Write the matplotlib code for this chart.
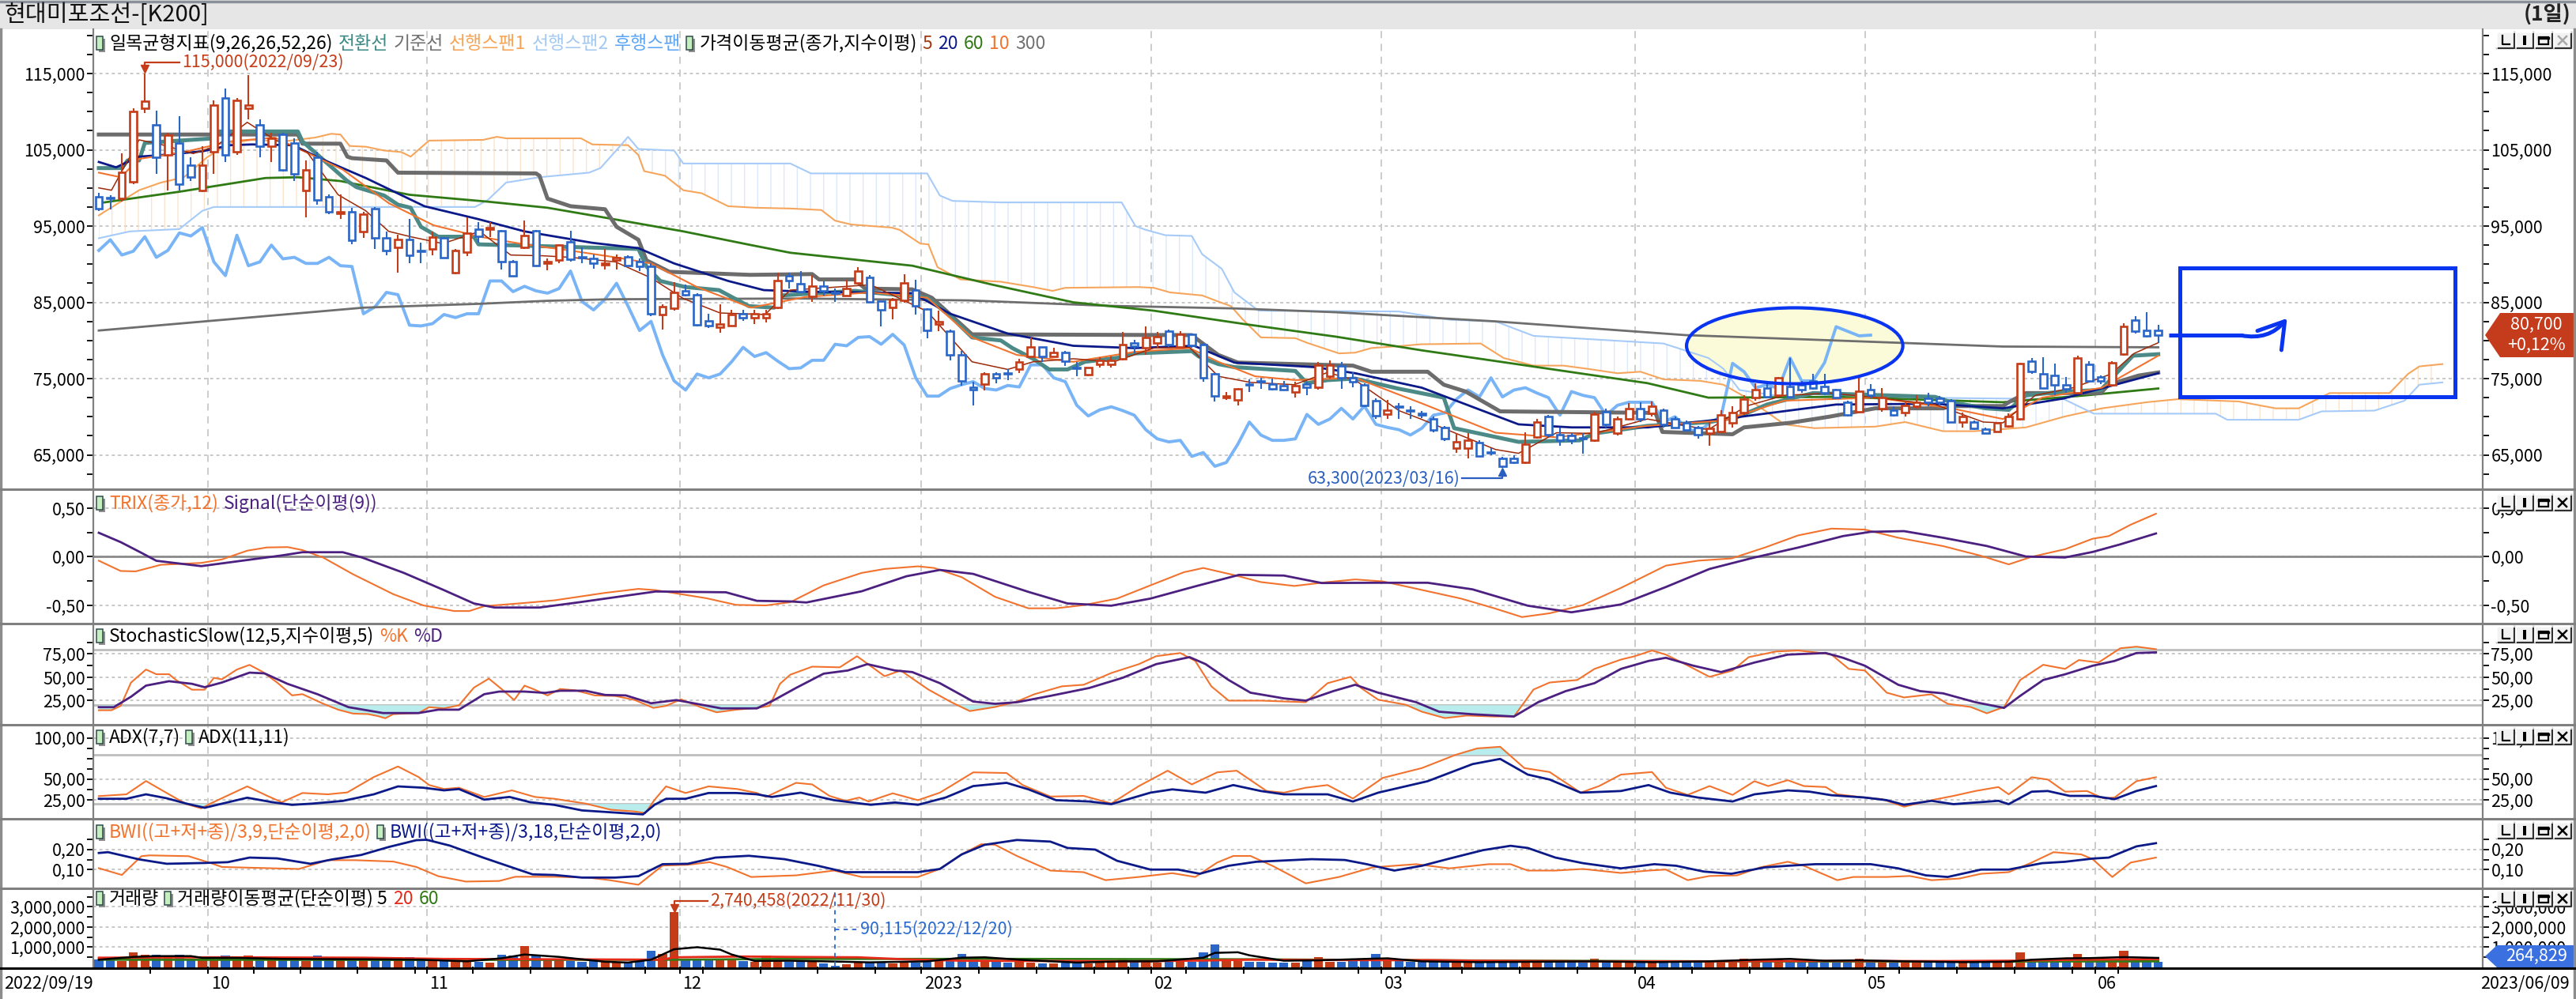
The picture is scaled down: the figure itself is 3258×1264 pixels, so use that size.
import numpy as np
import pandas as pd
import matplotlib
matplotlib.use('Agg')
import matplotlib.pyplot as plt
import matplotlib.transforms as mtransforms
from matplotlib import font_manager
from matplotlib.patches import Rectangle, Ellipse, Polygon

# ---------------- data ----------------
HOLIDAYS = ['2022-10-03', '2022-10-10', '2022-12-30', '2023-01-23', '2023-01-24',
            '2023-03-01', '2023-05-01', '2023-05-05', '2023-05-29', '2023-06-06']

OPEN = [98800, 98700, 98600, 100800, 110400, 108300, 104300, 105900, 103000, 99700,
        104700, 111800, 104700, 110400, 108300, 105500, 107000, 105900, 99700, 104000,
        98800, 96700, 96900, 94300, 97300, 93400, 92200, 93200, 91800, 92000,
        93400, 88900, 91600, 94600, 94600, 94400, 90300, 92200, 94400, 90100,
        90500, 92900, 91000, 90700, 89900, 90500, 91000, 90300, 89700, 83400,
        84200, 86500, 86000, 82600, 81700, 81900, 83500, 83000, 83000, 84300,
        88500, 87400, 85800, 87100, 86300, 85900, 87500, 88300, 85200, 84300,
        85300, 86600, 84100, 82200, 81200, 78100, 73900, 74300, 75600, 75700,
        76200, 77900, 79100, 77900, 78400, 76400, 75500, 76900, 76900, 77600,
        79700, 79000, 79700, 81200, 79100, 80800, 79500, 75600, 72500, 72200,
        74300, 74700, 74300, 74100, 73200, 74300, 73900, 75300, 76700, 75100,
        74200, 72100, 70300, 71400, 70900, 70400, 69700, 68600, 65900, 65900,
        66600, 65400, 64500, 64500, 64000, 67300, 70000, 67600, 67500, 67200,
        66900, 70700, 67900, 69700, 71100, 70400, 70900, 69700, 69200, 68600,
        67800, 68100, 69200, 70500, 72500, 73800, 72800, 74000, 74200, 74700,
        74000, 73500, 71900, 70700, 73500, 71100, 70900, 70500, 71400, 72400,
        72400, 72100, 69300, 69300, 68400, 68100, 68800, 69700, 77300, 75600,
        75400, 74200, 73100, 76900, 75200, 74200, 78200, 82700, 81300, 81300]
HIGH = [99400, 99000, 104500, 110400, 115000, 110100, 107200, 109400, 104000, 105500,
        111500, 113000, 111800, 114800, 109000, 107200, 107200, 106500, 103600, 104700,
        99100, 99100, 97400, 96900, 97500, 94300, 93900, 95900, 92800, 94300,
        93600, 92000, 96100, 95500, 95500, 94500, 90500, 95700, 94500, 90800,
        92600, 94400, 92200, 91300, 92000, 91300, 91200, 90800, 90100, 84700,
        87600, 87300, 86200, 83500, 84700, 84000, 84000, 84000, 84000, 88900,
        88900, 89100, 88600, 87700, 86800, 88000, 89600, 88600, 85200, 85600,
        88700, 88000, 84200, 83900, 81400, 78600, 74600, 75800, 75800, 76200,
        77600, 80400, 79100, 79000, 78600, 77200, 76500, 77800, 77900, 81100,
        80100, 81800, 81100, 81400, 81200, 80900, 79700, 75700, 73200, 73800,
        74900, 75100, 75000, 74700, 74600, 74600, 77200, 77400, 77200, 75800,
        74400, 72400, 72200, 71800, 71400, 70800, 70000, 68800, 67800, 67800,
        66900, 65900, 64700, 65000, 68000, 69700, 70200, 68600, 67800, 67800,
        70700, 71100, 70000, 71800, 71900, 72000, 71100, 70000, 69500, 68800,
        69300, 70900, 71400, 72800, 74400, 74400, 75200, 77700, 74700, 75600,
        75600, 73700, 72100, 75200, 74300, 73800, 71400, 71900, 72800, 73100,
        72700, 72300, 70500, 69500, 68600, 69300, 70400, 77100, 77700, 77800,
        77000, 75200, 78000, 77300, 75400, 77300, 82300, 83200, 83700, 82000]
LOW = [97000, 97200, 98200, 100500, 109800, 101800, 99700, 99700, 100900, 99500,
       101800, 103400, 104300, 109000, 104000, 103400, 102200, 100900, 96100, 97800,
       96600, 95900, 92600, 93400, 92000, 91200, 88900, 90100, 90100, 91200,
       90700, 88700, 91100, 92800, 93600, 89300, 88400, 92000, 89700, 89200,
       90100, 90300, 90100, 89400, 89300, 89300, 89700, 89100, 83200, 81400,
       83900, 85800, 81800, 81600, 81000, 81800, 82600, 82200, 82400, 84100,
       86800, 86200, 85100, 85900, 85100, 85800, 87300, 85000, 81800, 82800,
       85000, 83400, 80300, 81200, 77400, 74100, 71500, 73400, 74400, 74800,
       75700, 77800, 77200, 77800, 76700, 75300, 75300, 76500, 76400, 77400,
       78300, 78100, 79000, 79100, 79000, 79000, 74600, 72000, 72200, 71500,
       73200, 73700, 73400, 73400, 72500, 72800, 73600, 75000, 73700, 73900,
       71300, 69700, 69700, 69700, 69700, 69800, 68000, 66800, 65300, 64500,
       64700, 65000, 63300, 63800, 63800, 67100, 67300, 66200, 66400, 65200,
       66700, 68600, 67500, 69500, 69300, 70000, 68600, 68500, 68100, 67100,
       66200, 67900, 68600, 70200, 72100, 72400, 72600, 72400, 73100, 73600,
       72800, 72300, 70000, 70500, 72400, 70700, 70000, 70000, 71100, 71400,
       71600, 69200, 68600, 68300, 67700, 68000, 68600, 69500, 75600, 73700,
       72800, 73100, 73000, 74500, 74300, 74000, 78000, 80900, 80400, 79700]
CLOSE = [97300, 98600, 102000, 110000, 111400, 104000, 106900, 100500, 101400, 103000,
         110900, 104300, 111500, 110900, 105500, 106500, 102400, 101800, 102400, 98400,
         96900, 96900, 93100, 96600, 93400, 91800, 93200, 91200, 91700, 93600,
         90900, 91800, 94100, 93700, 94800, 90300, 88500, 93800, 89800, 90300,
         92500, 90700, 90900, 90100, 90100, 90900, 89800, 89700, 83500, 84400,
         86300, 86000, 82000, 81900, 82200, 83400, 83000, 83500, 83500, 87800,
         87800, 86400, 87100, 86500, 86200, 86800, 89100, 85100, 84000, 85400,
         87500, 84500, 81300, 82500, 78100, 74700, 73500, 75600, 75100, 75600,
         77200, 79100, 77900, 78400, 77300, 76300, 76400, 77400, 77400, 79500,
         79300, 80400, 80500, 79500, 80800, 79400, 75100, 72700, 72700, 73700,
         74200, 74600, 73700, 73500, 74100, 73900, 76800, 76800, 75100, 74600,
         71500, 70100, 70900, 71300, 70800, 70200, 68300, 67100, 66700, 66900,
         64800, 65300, 63500, 64000, 66400, 69300, 67600, 66900, 66900, 67100,
         70300, 69000, 69700, 71100, 69700, 71400, 69000, 68600, 68300, 67600,
         68500, 70200, 70500, 72300, 73500, 72600, 75100, 72600, 73500, 73800,
         73100, 72500, 70200, 73300, 72800, 72500, 70200, 71500, 71900, 71900,
         71900, 69300, 70000, 68500, 67900, 69200, 70000, 77000, 75900, 73800,
         74200, 73700, 77700, 74700, 74700, 77100, 81800, 81200, 80600, 80700]
VOLUME = [410000, 346000, 320000, 730000, 640000, 640000, 513000, 640000, 449000, 410000,
          410000, 577000, 449000, 577000, 449000, 385000, 385000, 385000, 320000, 577000,
          449000, 385000, 385000, 385000, 385000, 385000, 513000, 513000, 346000, 320000,
          385000, 320000, 282000, 256000, 218000, 640000, 577000, 1051000, 603000, 449000,
          385000, 295000, 256000, 320000, 256000, 218000, 218000, 320000, 808000, 680000,
          2740458, 449000, 420000, 449000, 346000, 385000, 295000, 256000, 577000, 346000,
          256000, 256000, 256000, 192000, 90115, 160000, 256000, 256000, 250000, 200000,
          280000, 230000, 300000, 300000, 440000, 680000, 520000, 280000, 260000, 240000,
          430000, 250000, 200000, 180000, 230000, 200000, 210000, 250000, 260000, 430000,
          280000, 300000, 250000, 280000, 260000, 260000, 750000, 1140000, 430000, 330000,
          280000, 260000, 240000, 250000, 230000, 300000, 520000, 280000, 270000, 300000,
          430000, 680000, 350000, 300000, 280000, 260000, 260000, 240000, 250000, 240000,
          230000, 260000, 300000, 260000, 280000, 365000, 300000, 280000, 260000, 240000,
          445000, 300000, 260000, 240000, 250000, 260000, 250000, 240000, 250000, 260000,
          300000, 280000, 300000, 445000, 365000, 300000, 445000, 300000, 280000, 260000,
          280000, 300000, 280000, 445000, 280000, 270000, 250000, 260000, 250000, 240000,
          260000, 250000, 270000, 260000, 250000, 260000, 280000, 750000, 300000, 320000,
          300000, 380000, 680000, 520000, 280000, 300000, 840000, 420000, 520000, 264829]

# moving averages / ichimoku lines, (bar index, value)
MA5 = [(0, 100000), (1.1, 99700), (3.5, 106300), (5.4, 105700), (8.2, 104500), (10.2, 105500),
       (12.9, 108600), (15.3, 106300), (18.1, 104700), (20.8, 99100), (23.2, 97000), (25.2, 94300),
       (27.1, 93600), (29.9, 92700), (33.1, 94300), (35.8, 91200), (38.6, 91100), (41, 90900),
       (44.9, 90300), (48, 88200), (50.8, 85500), (54, 83600), (57.9, 83400), (60.1, 86600),
       (67.1, 87300), (72, 83800), (75.9, 77200), (79, 76200), (81.2, 77200), (84.7, 77600),
       (88.2, 77200), (91.7, 79000), (94.8, 79100), (97.3, 75300), (100.1, 74500), (103.9, 74200),
       (106.8, 75800), (109.2, 74800), (113, 70800), (114.9, 69700), (121.4, 65700), (123.4, 65200),
       (126.7, 67900), (130, 67800), (134.6, 69700), (139.9, 68300), (143.2, 71400), (146.5, 72800),
       (150.5, 73100), (154.5, 72500), (159.6, 71600), (163.8, 69300), (165.5, 69200), (168.3, 72800),
       (171.6, 73800), (174.9, 75600), (176.9, 78300), (179, 79700)]
MA10 = [(0, 102000), (1.9, 101400), (3.5, 103800), (7.4, 104700), (11.4, 106100), (15.3, 106600),
        (17.7, 104900), (21.2, 102400), (25.2, 98000), (29.1, 95100), (33.1, 93600), (37, 92600),
        (40.9, 91800), (44.9, 90900), (48, 90100), (52, 87000), (56.7, 84300), (61.4, 85700),
        (67.1, 86300), (72, 85600), (75.9, 80400), (79.8, 78100), (84.7, 77200), (90, 78500),
        (94.8, 79000), (97.3, 77200), (100.5, 75300), (104, 74800), (109.2, 75100), (114.9, 71800),
        (121.4, 67900), (126.7, 67300), (134.6, 68800), (141.2, 69500), (146.5, 72100), (154.5, 72500),
        (161, 71100), (165.5, 69700), (168.9, 72500), (174.1, 73800), (179, 78000)]
MA20 = [(0, 103400), (1.5, 102700), (3.5, 104100), (5.4, 104300), (9, 104800), (11.4, 105600),
        (13.3, 105700), (16.9, 105600), (19.2, 103900), (23.2, 101300), (28.3, 97600), (33, 95900),
        (37, 94300), (42.9, 92800), (46.9, 92100), (50, 90100), (54.7, 87800), (57.8, 86600),
        (61.4, 86400), (70.7, 86200), (74, 83500), (79, 80900), (84.7, 79300), (90, 79000),
        (95.2, 79300), (98.7, 77100), (105.7, 76500), (109.2, 75700), (115, 73800), (123.4, 69000),
        (128, 68600), (134.6, 68600), (141.2, 69700), (151, 71600), (159.6, 71700), (165.5, 71100),
        (170.8, 72400), (179, 75700)]
MA60 = [(0, 98000), (7, 99500), (14.5, 101300), (17.3, 101400), (21, 100900), (27, 99100),
        (33.8, 98200), (39, 97400), (44, 96100), (50.8, 94300), (56.7, 92500), (60.1, 91500),
        (70.7, 89800), (77.7, 87300), (84.7, 85000), (91.7, 83900), (99.8, 82100), (107.5, 80500),
        (115, 78700), (121.4, 77300), (134.6, 74400), (139.9, 72500), (151, 72600), (165.5, 71900),
        (172.7, 72800), (179, 73700)]
MA300 = [(0, 81300), (23, 84300), (33, 84800), (39, 85200), (44.5, 85400), (61, 85500),
         (75.6, 85250), (87.5, 84550), (98.7, 84200), (107.5, 83700), (115, 83050), (121.4, 82500),
         (137.9, 80700), (149, 80100), (165.5, 79200), (179, 79100)]
TENKAN = [(0, 102600), (2, 102600), (2.5, 103600), (3.5, 103600), (4, 105900), (10, 106500),
          (10.5, 107400), (17.3, 107400), (17.7, 106100), (21.6, 100900), (22.4, 100100), (24.8, 99000),
          (26, 97800), (27.1, 97400), (28, 94900), (29.5, 93600), (32.6, 93600), (33, 92600),
          (46.9, 92000), (47.6, 89700), (48.8, 87800), (51, 87000), (53.9, 86600), (56.5, 84500),
          (58.7, 84300), (59.3, 85900), (65.7, 86500), (67.1, 86300), (72, 85600), (74, 83200),
          (75.9, 80400), (78.4, 80000), (79.4, 79000), (81.2, 77600), (82.6, 76200), (84.2, 76200),
          (85.7, 77200), (88.9, 77800), (90, 78300), (95, 78600), (95.6, 77900), (97.3, 76900),
          (98.7, 76500), (104, 76000), (105, 74400), (106.8, 74800), (109.2, 75000), (112.9, 73700),
          (116.9, 72500), (117.8, 68500), (123.4, 66700), (128.7, 66900), (130, 67800), (134.6, 68800),
          (140, 69300), (142.5, 70000), (145, 71600), (149, 73100), (159.6, 72600), (161, 71900),
          (164, 71100), (166, 70900), (167.5, 72800), (170.8, 73300), (174, 73500), (176.8, 78000),
          (179, 78200)]
KIJUN = [(0, 107000), (17.3, 107000), (17.7, 105800), (21, 105800), (21.6, 104100), (22, 103900),
         (25, 103600), (26, 102000), (38, 101900), (38.3, 101600), (39, 98600), (41, 97600),
         (44, 97200), (45, 94900), (46.9, 93200), (47.6, 90500), (49.6, 89000), (56.6, 88600),
         (62, 88700), (62.6, 88000), (65.7, 88000), (66.6, 86800), (70.7, 86700), (72.4, 85600),
         (75.9, 80800), (95, 80700), (95.6, 80000), (97.3, 78100), (99, 77100), (109, 76700),
         (110.6, 75900), (115.5, 75900), (116.9, 74200), (118.8, 73300), (121.8, 70700), (135.3, 70500),
         (135.9, 68000), (142, 67700), (143, 68600), (147, 69200), (150.4, 70000), (154.4, 71100),
         (160.3, 71100), (161, 71400), (165.5, 71400), (166, 71900), (167.5, 73100), (174, 73100),
         (174.7, 74200), (177.3, 75400), (179, 75800)]
SPAN1 = [(0, 96400), (1.9, 98200), (3.5, 99700), (5.4, 100700), (7.4, 101400), (9.4, 104000),
         (11.4, 105900), (13.3, 106300), (16.1, 106100), (18.8, 106600), (20.2, 107100), (21, 107000),
         (21.8, 105500), (23.2, 105400), (24.8, 104900), (26.3, 104700), (27.1, 104100), (28.7, 106200),
         (33.4, 106300), (34.6, 106700), (35.4, 106500), (41.9, 106500), (42.9, 105700), (46, 105600),
         (46.9, 104300), (47.4, 102200), (49.2, 101600), (50.8, 99700), (52.4, 99300), (54.7, 97600),
         (57.1, 97400), (60.1, 97300), (62.8, 97100), (64, 95700), (65.4, 95200), (68.9, 94800),
         (69.6, 94500), (71.4, 92700), (72.1, 92600), (72.9, 89600), (74.9, 88000), (78.4, 87700),
         (81.2, 87000), (82.9, 86500), (84, 86900), (90.3, 87000), (91.7, 86900), (93.1, 86300),
         (95.9, 85900), (97.3, 85100), (98.4, 84500), (99.4, 82800), (101, 80400), (104, 80300),
         (105, 79700), (107.8, 78300), (109.2, 78400), (110.6, 79000), (113.4, 79300), (114.9, 79500),
         (120.1, 79600), (122.1, 77700), (124.7, 76700), (127.3, 76700), (129.3, 76300), (132, 75700),
         (134, 75900), (136, 74900), (139.2, 74700), (141.2, 74200), (143.2, 72500), (146.5, 69000),
         (149.1, 68500), (154.4, 68700), (157, 69300), (160.3, 68100), (163, 68100), (167.5, 68600),
         (170.8, 70000), (174.1, 71100), (178, 71900), (180.7, 72300), (186, 72000), (189.2, 71100),
         (191.2, 71100), (193.9, 73100), (199.1, 73100), (200.7, 75600), (201.7, 76600), (203.7, 76900)]
SPAN2 = [(0, 93400), (2.7, 94300), (7, 94600), (9, 97000), (10, 97500), (32.7, 97500),
         (33.8, 98400), (35.4, 100700), (38.3, 101400), (42.6, 102000), (43.6, 102600), (45.2, 105300),
         (46, 106700), (46.9, 105100), (50, 104900), (50.8, 103200), (60.1, 103200), (61.9, 101900),
         (72, 101900), (73.1, 99000), (74.2, 98300), (78.4, 98100), (88.9, 98100), (90.1, 95000),
         (91, 94500), (92.7, 93800), (95, 93700), (95.9, 91300), (97.6, 89400), (98.7, 86300),
         (100.8, 83900), (113, 83800), (117.5, 82700), (121.4, 82500), (124.7, 80600), (136, 79600),
         (139.9, 77700), (141.2, 76300), (142.6, 73500), (146.5, 72600), (157.7, 72500), (170.8, 72300),
         (173.4, 70400), (184, 70400), (185, 69600), (191.2, 69600), (193.2, 70700), (197.8, 70800),
         (200.4, 72100), (201.7, 74200), (203.7, 74500)]

TRIX = [(0, -0.04), (1.9, -0.146), (3.2, -0.15), (5.4, -0.082), (8.9, -0.063), (10.7, -0.027),
        (12.9, 0.063), (14.6, 0.096), (16.4, 0.10), (17.7, 0.069), (19.5, -0.008), (22.1, -0.18),
        (25.6, -0.385), (28.2, -0.50), (30.9, -0.558), (32.2, -0.558), (33.5, -0.508), (37, -0.475),
        (39.6, -0.448), (44, -0.371), (46.9, -0.33), (48.4, -0.343), (52.8, -0.426), (55.4, -0.495),
        (58, -0.5), (60.1, -0.467), (63, -0.294), (66.3, -0.166), (68.3, -0.125), (71.2, -0.098),
        (72.6, -0.115), (75, -0.21), (77.9, -0.412), (80.8, -0.53), (83.2, -0.53), (85.6, -0.497),
        (88.5, -0.43), (91.4, -0.294), (94.3, -0.159), (96, -0.115), (98.6, -0.186), (101, -0.26),
        (103.9, -0.3), (106.8, -0.26), (109.2, -0.233), (111.6, -0.253), (114.5, -0.328), (118.4, -0.43),
        (121.3, -0.53), (123.7, -0.62), (126.1, -0.581), (129, -0.497), (132.3, -0.32), (136.2, -0.091),
        (139, -0.04), (141.9, -0.017), (144.8, 0.095), (147.7, 0.22), (150.6, 0.29), (153.5, 0.28),
        (156.4, 0.196), (160.3, 0.11), (163.6, 0.01), (166, -0.078), (168, 0.0), (170.9, 0.078),
        (173.3, 0.186), (174.7, 0.213), (176.6, 0.33), (178.8, 0.443)]
TRIX_SIG = [(0, 0.247), (1.9, 0.151), (3.7, 0.041), (5, -0.041), (8.9, -0.096), (12.4, -0.041),
            (15.9, 0.014), (17.7, 0.047), (21.2, 0.047), (22.9, -0.008), (26.5, -0.165), (30, -0.343),
            (32.6, -0.48), (34.4, -0.522), (38.3, -0.522), (41.8, -0.467), (48.4, -0.357), (54.5, -0.365),
            (57.2, -0.453), (60.1, -0.459), (61.5, -0.47), (66.3, -0.355), (70.2, -0.2), (73.1, -0.135),
            (76, -0.176), (80.8, -0.361), (84.2, -0.48), (88, -0.503), (91.4, -0.43), (95.3, -0.304),
            (99.1, -0.186), (103, -0.193), (106.3, -0.27), (111.2, -0.267), (115.5, -0.267), (119.4, -0.335),
            (124.2, -0.503), (128, -0.571), (132.3, -0.49), (136.2, -0.311), (140, -0.125), (143.9, -0.007),
            (147.7, 0.095), (151.6, 0.213), (154, 0.257), (156.9, 0.264), (160.3, 0.196), (164.1, 0.111),
            (167.5, 0.003), (170.9, -0.007), (173.3, 0.05), (175.7, 0.128), (178.8, 0.24)]

STOCH_K = [(0, 14.7), (1.1, 14.7), (1.9, 19.4), (2.8, 44.4), (4.1, 58.3), (5, 53.3), (6.1, 53.3),
           (6.7, 47.2), (8.1, 36.7), (9.2, 36.7), (10, 49.4), (10.7, 47.8), (12, 58.3), (13.1, 63.3),
           (14.2, 56.1), (15.5, 44.4), (16.8, 30.6), (17.7, 31.9), (19.5, 21.7), (20.8, 15.3), (22.1, 11.1),
           (23.4, 10.6), (24.3, 8.3), (24.9, 6.1), (25.6, 10.6), (27.8, 11.7), (28.7, 18), (30, 16.7),
           (31.3, 20), (32.6, 38.9), (33.9, 48.6), (35, 37.5), (36.1, 25.6), (37, 41.1), (37.9, 36.7),
           (39, 30.6), (40.1, 37.5), (41.4, 36.1), (43.1, 30.6), (44.9, 30), (46.6, 25.6), (48.2, 17.2),
           (49.3, 19.4), (50.6, 26.4), (52.3, 18), (53.7, 12.5), (55.4, 15.3), (57.2, 17.2), (58.3, 19.4),
           (59.2, 43), (60.1, 52.8), (62, 61.4), (64.4, 60.7), (65.9, 72.6), (68.3, 51.2), (69.7, 57.3),
           (72.1, 36.9), (74.1, 23.3), (75.7, 13.8), (77.9, 18.2), (79.8, 24), (81.3, 31.8), (83.7, 40.3),
           (85.6, 42), (88, 54.6), (90.4, 64.1), (91.9, 72.6), (94, 76), (95.3, 67.5), (96.7, 40.3),
           (98.2, 25), (101, 25), (104.9, 23.3), (106.8, 43.7), (108.8, 50.5), (109.7, 38.6), (111.2, 26),
           (113.6, 20.6), (115, 13.1), (117, 6.3), (118.9, 9), (121.3, 8), (123, 8), (124.7, 36.9),
           (126.1, 44.4), (128.5, 47.1), (130, 59), (132.3, 69), (133.5, 72.6), (135, 78.7), (136.2, 74.3),
           (137.6, 65.8), (140, 50.5), (142, 57.3), (143.4, 71.6), (145.8, 77.7), (147.7, 78.7), (149.7, 76),
           (150.6, 74.3), (152.1, 59), (153.5, 57.3), (155.4, 33.5), (156.9, 28.4), (159.3, 31.8),
           (160.7, 21.6), (162.7, 18.2), (164.1, 11.4), (165.6, 18.2), (167, 47.1), (169, 63.4), (170.9, 59),
           (172.1, 68.5), (173.8, 65.8), (175.7, 81.1), (177.1, 82.8), (178.8, 80.1)]
STOCH_D = [(0, 18), (1.3, 18), (2.8, 29.2), (4.1, 41.1), (6.1, 45.8), (8.1, 43), (9.2, 39.4),
           (10.7, 44.4), (13.1, 55), (14.4, 54.2), (16.4, 43), (19, 31.9), (21.7, 18), (24.7, 11.7),
           (27.8, 11.7), (29.5, 15.3), (31.3, 15.3), (33.5, 31.9), (34.8, 34.7), (37, 34.7), (38.8, 33.3),
           (40.1, 35.6), (42.3, 35.6), (44, 31.1), (45.8, 30.6), (48, 22.2), (50.2, 25.6), (52.3, 20.8),
           (54.1, 16.7), (57.2, 16.7), (58.6, 25), (60.6, 38.6), (63, 53.9), (65.1, 57.3), (66.8, 64.1),
           (69.2, 57.3), (70.7, 55.6), (73.1, 43.7), (76, 24), (77.9, 21.6), (79.8, 23.3), (82.7, 30.1),
           (86.1, 38.6), (89, 49.5), (91.9, 64.1), (94.8, 71.6), (96.2, 64.1), (98.2, 47.1), (100.1, 33.5),
           (103, 27.4), (104.9, 25), (107.3, 35.2), (109.2, 42), (111.2, 33.5), (114.5, 23.3), (116.5, 13.1),
           (119.4, 10.4), (123, 8), (125.1, 23.3), (127.5, 35.2), (130, 43.7), (132.3, 59), (134.7, 67.5),
           (136.2, 70.9), (138.6, 62.4), (141, 55.6), (143.9, 65.8), (146.8, 74.3), (150.1, 76),
           (151.6, 70.9), (153.5, 62.4), (156.4, 42), (158.3, 35.2), (160.3, 32.8), (163.1, 23.3),
           (165.6, 17.2), (167, 30.1), (169, 47.1), (170.9, 53.2), (173.3, 62.4), (175.2, 67.5),
           (177.1, 76), (178.8, 76.7)]

ADX7 = [(0, 29.5), (2.4, 31.7), (4.1, 47.8), (5.9, 33.3), (7.6, 19.9), (8.9, 14.7), (9.7, 20.5),
        (12.9, 41.3), (14.6, 30.1), (15.9, 22.1), (17.7, 33.3), (19.9, 31.7), (21.6, 34), (23.9, 52.6),
        (26, 65.4), (27.8, 52.6), (28.7, 43), (30, 38.1), (31.3, 39.7), (33.5, 28.5), (35.9, 36.5),
        (37.9, 28.5), (39.6, 26.3), (42.3, 20.5), (44.5, 13), (46.5, 11), (47.5, 9), (48.3, 25),
        (49.3, 41.3), (51, 33.3), (53, 41.3), (55.5, 38.1), (57.2, 33.3), (58, 28.5), (60.6, 45.6),
        (62, 43.7), (63.5, 29.8), (64.9, 23.8), (66.1, 27.8), (66.9, 23), (69, 32.9), (71.2, 24.6),
        (73.1, 33.7), (76, 58.3), (78.9, 57.5), (80.3, 42.9), (82.7, 29), (85.6, 29.8), (88, 20.6),
        (90.4, 41.7), (92.9, 60.3), (95, 43.7), (97.2, 58.3), (98.9, 60.3), (101.5, 35.7), (103, 33.7),
        (104.9, 39.7), (106.8, 42.9), (109, 26.6), (111.6, 51.6), (115, 63.5), (117.9, 79.4),
        (119.8, 87.3), (121.8, 89.3), (123.9, 63.5), (126.1, 58.7), (128.8, 33.7), (130.4, 41.7),
        (132.3, 55.6), (135, 58.7), (136.2, 39.7), (138.1, 31), (140, 41.7), (142, 31), (143.9, 47.6),
        (145.1, 41.7), (146.8, 48.8), (148.2, 41.7), (150.1, 40.5), (151.1, 31.7), (153.5, 27.8),
        (155, 25.8), (156.9, 16.7), (159.3, 24.6), (161.2, 29.8), (163.1, 35.7), (165.1, 40.5), (166, 31.7),
        (168, 52.4), (169.4, 49.6), (170.9, 34.9), (172.8, 35.7), (174.2, 27), (175.2, 27.8),
        (177.1, 47.6), (178.8, 52.4)]
ADX11 = [(0, 26.3), (2.4, 26.3), (4.1, 31.7), (5.9, 26.9), (7.6, 20.5), (9.2, 15.4), (12.9, 27.6),
         (15.1, 22.1), (16.8, 18.9), (18.6, 20.5), (21.2, 23.7), (23.9, 31.7), (26, 41.3), (28.2, 39.7),
         (30, 36.5), (31.3, 38.1), (33.5, 25.3), (35.7, 28.5), (37.5, 22.1), (39.6, 18.9), (42, 12.2),
         (47.3, 7.4), (48.3, 19), (49.3, 26.3), (51, 26.3), (53, 33.3), (55.4, 33.3), (57.2, 31.7),
         (58.5, 28.5), (61, 33.7), (63.9, 24.6), (67.1, 19), (69.2, 21.8), (71.2, 19), (73.6, 27.8),
         (76, 41.7), (78.9, 45.6), (80.8, 37.7), (83.2, 24.6), (86.1, 23), (88, 19.8), (91.4, 33.7),
         (93.3, 37.7), (96.2, 33.7), (98.6, 42.9), (101, 35.7), (103, 31.7), (106.8, 31.7), (109, 23),
         (111.2, 33.7), (115.5, 47.6), (119.4, 68.3), (121.8, 74.6), (124.2, 55.6), (126.1, 49.6),
         (128.8, 33.7), (132.3, 35.7), (134.7, 42.9), (136.6, 33.7), (139, 27.8), (142, 23), (143.9, 31.7),
         (146.8, 36.5), (148.7, 34.9), (150.6, 30.6), (153.5, 27.8), (155.4, 24.6), (156.9, 19),
         (159.3, 23.8), (161.2, 19.8), (165.1, 23.8), (166, 19.8), (168, 34.9), (169.4, 35.7),
         (171.3, 29.8), (173.3, 29.8), (175.2, 25.8), (177.1, 35.7), (178.8, 41.7)]

BWI9 = [(0, 0.107), (2, 0.073), (3.7, 0.167), (4.4, 0.171), (7.8, 0.167), (9.7, 0.133), (10.7, 0.113),
        (17.4, 0.103), (19.9, 0.147), (22.3, 0.147), (25.6, 0.14), (27.6, 0.113), (29.5, 0.067),
        (31.9, 0.04), (34.8, 0.043), (36.2, 0.064), (39.6, 0.064), (42.5, 0.06), (44.4, 0.047),
        (46.9, 0.024), (49, 0.12), (51.2, 0.124), (53.1, 0.137), (54.6, 0.113), (56.7, 0.063),
        (60.6, 0.071), (63.9, 0.095), (66.3, 0.063), (71.2, 0.063), (73.1, 0.103), (75, 0.176),
        (76.7, 0.227), (77.9, 0.224), (79.8, 0.168), (82.7, 0.095), (85.6, 0.087), (87.5, 0.047),
        (90.4, 0.063), (93.3, 0.082), (95.3, 0.063), (97.2, 0.135), (98.6, 0.168), (100.1, 0.168),
        (102, 0.119), (104.9, 0.031), (107.8, 0.063), (110.7, 0.111), (114.5, 0.127), (117.4, 0.106),
        (120.8, 0.127), (122.7, 0.127), (124.2, 0.095), (126.6, 0.095), (129, 0.103), (132.3, 0.083),
        (134.7, 0.095), (136.2, 0.1), (138.1, 0.047), (140, 0.068), (142.4, 0.071), (144.4, 0.111),
        (146.8, 0.139), (148.2, 0.119), (151.1, 0.047), (152.5, 0.063), (155.4, 0.063), (157.4, 0.068),
        (159.3, 0.047), (161.7, 0.055), (163.6, 0.079), (166, 0.087), (168, 0.135), (169.9, 0.187),
        (172.3, 0.176), (173.3, 0.152), (175, 0.063), (176.6, 0.135), (178.8, 0.16)]
BWI18 = [(0, 0.183), (0.8, 0.187), (3.5, 0.151), (5.9, 0.129), (9.2, 0.133), (11.2, 0.137),
         (13.1, 0.16), (15.5, 0.156), (18.4, 0.129), (20.3, 0.151), (22.8, 0.173), (25.2, 0.213),
         (27.6, 0.247), (28.5, 0.249), (30.5, 0.22), (33.4, 0.16), (35.8, 0.113), (37.7, 0.076),
         (39.6, 0.073), (42, 0.06), (44.9, 0.06), (46.9, 0.067), (49, 0.127), (51.2, 0.129), (53.6, 0.16),
         (56.5, 0.169), (59.6, 0.152), (62.5, 0.119), (64.9, 0.087), (71.2, 0.087), (73.1, 0.103),
         (75, 0.176), (77, 0.224), (79.8, 0.248), (82.7, 0.24), (84.2, 0.208), (86.6, 0.2), (88.5, 0.144),
         (91.4, 0.1), (93.8, 0.1), (95.7, 0.079), (98.2, 0.119), (100.6, 0.139), (102.5, 0.144),
         (105.4, 0.152), (108.3, 0.148), (110.2, 0.127), (112.6, 0.095), (115, 0.119), (117.4, 0.155),
         (120.3, 0.197), (122.7, 0.219), (124.2, 0.208), (126.6, 0.16), (129, 0.132), (132.3, 0.106),
         (135.2, 0.127), (137.1, 0.119), (139.5, 0.09), (141.9, 0.079), (144.8, 0.111), (146.8, 0.119),
         (149.2, 0.127), (154, 0.127), (156.4, 0.106), (158.8, 0.071), (160.7, 0.063), (163.6, 0.1),
         (166, 0.1), (168.9, 0.132), (170.9, 0.139), (173.3, 0.155), (174.7, 0.16), (177.1, 0.216),
         (178.8, 0.232)]

VMA5 = [(0, 380000), (3, 520000), (5, 560000), (8, 560000), (9, 470000), (12, 470000), (16, 420000),
        (20, 410000), (24, 400000), (28, 380000), (32, 300000), (35, 450000), (37, 640000), (40, 520000),
        (42, 400000), (44, 280000), (46, 240000), (48, 380000), (50, 900000), (52, 1000000),
        (54, 880000), (55, 640000), (57, 320000), (60, 330000), (64, 290000), (67, 250000), (72, 300000),
        (75, 480000), (77, 500000), (80, 380000), (85, 240000), (89, 300000), (92, 300000), (96, 480000),
        (97, 720000), (99, 750000), (100, 600000), (103, 330000), (106, 350000), (110, 420000),
        (112, 450000), (115, 300000), (120, 260000), (125, 280000), (130, 300000), (135, 260000),
        (140, 300000), (144, 380000), (147, 420000), (150, 330000), (153, 350000), (157, 300000),
        (162, 260000), (166, 280000), (168, 380000), (171, 450000), (173, 460000), (176, 510000),
        (179, 470000)]
VMA20 = [(0, 480000), (10, 500000), (23, 480000), (30, 420000), (40, 400000), (49, 380000),
         (50, 500000), (56, 540000), (60, 520000), (66, 500000), (70, 400000), (75, 330000),
         (80, 320000), (90, 300000), (96, 340000), (100, 380000), (110, 360000), (116, 360000),
         (120, 330000), (130, 300000), (140, 300000), (150, 320000), (160, 310000), (166, 330000),
         (172, 380000), (179, 410000)]
VMA60 = [(0, 380000), (30, 370000), (50, 380000), (60, 420000), (80, 420000), (100, 400000),
         (120, 340000), (140, 300000), (160, 290000), (179, 300000)]

# ---------------- style ----------------
KR = ['Noto Sans CJK KR', 'DejaVu Sans']
names = {f.name for f in font_manager.fontManager.ttflist}
if 'Liberation Sans Narrow' in names:
    NUM, NSZ = ['Liberation Sans Narrow', 'DejaVu Sans'], 19
else:
    NUM, NSZ = KR, 15.5
plt.rcParams['font.family'] = KR
plt.rcParams['axes.unicode_minus'] = False
plt.rcParams['hatch.linewidth'] = 0.9

RED, BLUE = '#c53c18', '#2a66c8'
ORG, PUR, NAVY = '#f2732e', '#4b2080', '#0b1a88'
GRID = '#c8c8c8'
LSZ = 16.5

W, H = 3258, 1264
fig = plt.figure(figsize=(W / 100, H / 100), dpi=100)

days = pd.bdate_range('2022-09-19', '2023-06-09')
days = days[~days.isin(pd.to_datetime(HOLIDAYS))]
n = len(days)
idx = np.arange(n)
month_idx = [i for i in range(1, n) if days[i].month != days[i - 1].month]
week_idx = [i for i in range(1, n) if days[i].isocalendar()[1] != days[i - 1].isocalendar()[1]]
XL = (-0.48, 207.2)

O, Hh, L, C = (np.array(a, float) for a in (OPEN, HIGH, LOW, CLOSE))
V = np.array(VOLUME, float)
up = C >= O
cols = np.where(up, RED, BLUE)


def pts(p):
    a = np.array(p, float)
    return a[:, 0], a[:, 1]


def panel(top, bottom):
    return fig.add_axes([118 / W, 1 - bottom / H, (3140 - 118) / W, (bottom - top) / H])


def setup(ax, ylim, majors, labels, minors):
    ax.set_xlim(XL)
    ax.set_ylim(ylim)
    for s in ax.spines.values():
        s.set_visible(False)
    ax.set_xticks([])
    ax.set_yticks(majors)
    ax.set_yticklabels(labels)
    ax.set_yticks(minors, minor=True)
    ax.tick_params(axis='y', which='both', left=True, right=True, labelleft=True,
                   labelright=True, direction='out', length=6, width=1.3, colors='black',
                   labelsize=NSZ, pad=1.5, labelfontfamily=NUM)
    for v in majors:
        ax.axhline(v, color=GRID, lw=1.4, ls=(0, (2, 2)), zorder=0.5)
    for m in month_idx:
        ax.axvline(m - 0.5, color=GRID, lw=1.3, ls=(0, (5, 4)), zorder=0.5)


# ---------------- price panel ----------------
ax = panel(38, 617)
setup(ax, (60700, 120700), [65000, 75000, 85000, 95000, 105000, 115000],
      ['65,000', '75,000', '85,000', '95,000', '105,000', '115,000'],
      np.arange(62500, 120001, 2500))

x1, s1 = pts(SPAN1)
x2, s2 = pts(SPAN2)
cloud = Polygon(np.vstack([np.column_stack([x1, s1]), np.column_stack([x2, s2])[::-1]]),
                closed=True, transform=ax.transData)
below = Polygon(np.vstack([np.column_stack([x1, s1]), [[x1[-1], 0], [x1[0], 0]]]), closed=True,
                facecolor='none', edgecolor='#fae2ca', hatch='|', lw=0, zorder=1)
above = Polygon(np.vstack([np.column_stack([x1, s1]), [[x1[-1], 200000], [x1[0], 200000]]]),
                closed=True, facecolor='none', edgecolor='#d9e7fa', hatch='|', lw=0, zorder=1)
for p in (below, above):
    ax.add_patch(p)
    p.set_clip_path(cloud)

ax.add_patch(Ellipse((147.4, 79300), 18.8, 9960, facecolor='#fcfbd9', edgecolor='none', zorder=1.5))

ax.plot(x1, s1, color='#f6a65c', lw=1.5, zorder=2)
ax.plot(x2, s2, color='#a6cbf8', lw=1.5, zorder=2)
ax.plot(idx[:n - 25], C[25:], color='#78b4f6', lw=2.8, zorder=2.5)
ax.plot(*pts(MA300), color='#6e6e6e', lw=2.0, zorder=2.6)
ax.plot(*pts(MA60), color='#2f7a14', lw=2.0, zorder=2.7)
ax.plot(*pts(KIJUN), color='#6c6c6c', lw=3.6, zorder=2.8)
ax.plot(*pts(TENKAN), color='#4b8a86', lw=3.6, zorder=2.9)
ax.plot(*pts(MA20), color=NAVY, lw=2.0, zorder=3)
ax.plot(*pts(MA10), color=ORG, lw=1.5, zorder=3.1)
ax.plot(*pts(MA5), color='#9c2a0a', lw=1.1, zorder=3.2)

ax.vlines(idx, L, np.minimum(O, C), colors=cols, lw=1.5, zorder=5)
ax.vlines(idx, np.maximum(O, C), Hh, colors=cols, lw=1.5, zorder=5)
ax.bar(idx, np.maximum(np.abs(C - O), 90), bottom=np.minimum(O, C), width=0.6,
       facecolor='white', edgecolor=cols, lw=1.9, zorder=6)

# high / low markers
ih, il = int(np.argmax(Hh)), int(np.argmin(L))
ax.plot([ih, ih, ih + 3.0], [Hh[ih] + 700, Hh[ih] + 1450, Hh[ih] + 1450], color=RED, lw=1.6, zorder=7)
ax.plot([ih], [Hh[ih] + 650], marker='v', ms=7, color=RED, zorder=7)
ax.text(ih + 3.2, Hh[ih] + 1450, f"{int(Hh[ih]):,}({days[ih].strftime('%Y/%m/%d')})",
        color=RED, fontsize=NSZ, family=NUM, va='center', ha='left', zorder=7)
ax.plot([il - 3.5, il, il], [L[il] - 1400, L[il] - 1400, L[il] - 600], color='#2a5fc0', lw=1.6, zorder=7)
ax.plot([il], [L[il] - 550], marker='^', ms=7, color='#2a5fc0', zorder=7)
ax.text(il - 3.7, L[il] - 1400, f"{int(L[il]):,}({days[il].strftime('%Y/%m/%d')})",
        color='#2a5fc0', fontsize=NSZ, family=NUM, va='center', ha='right', zorder=7)

# hand-drawn highlights
BL = '#0a35f0'
ax.add_patch(Ellipse((147.4, 79300), 18.8, 9960, facecolor='none', edgecolor=BL, lw=3.0, zorder=7))
ax.add_patch(Rectangle((180.9, 72570), 23.9, 16910, fill=False, edgecolor=BL, lw=3.6, zorder=7))
ax.plot([179.9, 186.4], [80660, 80660], color=BL, lw=3.6, zorder=7, solid_capstyle='butt')
ax.annotate('', xy=(190.2, 82900), xytext=(186.2, 80660),
            arrowprops=dict(arrowstyle='->,head_length=0.8,head_width=0.5', color=BL, lw=3.6,
                            connectionstyle='arc3,rad=0.3', shrinkA=0, shrinkB=0, mutation_scale=28),
            zorder=7)

# ---------------- TRIX ----------------
axt = panel(620, 788)
setup(axt, (-0.679, 0.687), [-0.5, 0.0, 0.5], ['-0,50', '0,00', '0,50'], [-0.25, 0.25])
axt.axhline(0, color='#8a8a8a', lw=2.0, zorder=0.6)
axt.plot(*pts(TRIX), color=ORG, lw=1.5, zorder=3)
axt.plot(*pts(TRIX_SIG), color=PUR, lw=2.0, zorder=3)

# ---------------- Stochastic ----------------
axs = panel(790, 916)
setup(axs, (0, 106.7), [25, 50, 75], ['25,00', '50,00', '75,00'], [37.5, 62.5, 87.5])
for v in (20, 80):
    axs.axhline(v, color='#bdbdbd', lw=2.0, zorder=0.6)
xk, k = pts(STOCH_K)
axs.fill_between(xk, k, 20, where=k < 20, interpolate=True, color='#b9ecec', lw=0, zorder=1)
axs.fill_between(xk, k, 80, where=k > 80, interpolate=True, color='#b9ecec', lw=0, zorder=1)
axs.plot(xk, k, color=ORG, lw=1.5, zorder=3)
axs.plot(*pts(STOCH_D), color=PUR, lw=2.0, zorder=3)

# ---------------- ADX ----------------
axa = panel(918, 1035)
setup(axa, (3, 115), [25, 50, 100], ['25,00', '50,00', '100,00'], [37.5, 62.5, 75, 87.5])
for v in (20, 80):
    axa.axhline(v, color='#bdbdbd', lw=2.0, zorder=0.6)
xa, a7 = pts(ADX7)
axa.fill_between(xa, a7, 20, where=a7 < 20, interpolate=True, color='#b9ecec', lw=0, zorder=1)
axa.fill_between(xa, a7, 80, where=a7 > 80, interpolate=True, color='#b9ecec', lw=0, zorder=1)
axa.plot(xa, a7, color=ORG, lw=1.5, zorder=3)
axa.plot(*pts(ADX11), color=NAVY, lw=2.0, zorder=3)

# ---------------- BWI ----------------
axb = panel(1037, 1123)
setup(axb, (0.01, 0.35), [0.1, 0.2], ['0,10', '0,20'], [0.15, 0.25])
axb.plot(*pts(BWI9), color=ORG, lw=1.5, zorder=3)
axb.plot(*pts(BWI18), color=NAVY, lw=2.0, zorder=3)

# ---------------- volume ----------------
axv = panel(1125, 1224)
setup(axv, (0, 3.88e6), [1e6, 2e6, 3e6], ['1,000,000', '2,000,000', '3,000,000'],
      [0.5e6, 1.5e6, 2.5e6, 3.5e6])
axv.bar(idx, V, width=0.78, color=cols, lw=0, zorder=3)
axv.plot(*pts(VMA60), color='#2f7a14', lw=2.0, zorder=4)
axv.plot(*pts(VMA20), color='#e52a1a', lw=2.0, zorder=4)
axv.plot(*pts(VMA5), color='black', lw=1.8, zorder=4)
iv, jv = int(np.argmax(V)), int(np.argmin(V))
axv.plot([iv, iv, iv + 2.9], [2.95e6, 3.31e6, 3.31e6], color=RED, lw=1.6, zorder=5)
axv.plot([iv], [2.93e6], marker='v', ms=7, color=RED, zorder=5)
axv.text(iv + 3.1, 3.31e6, f"{int(V[iv]):,}({days[iv].strftime('%Y/%m/%d')})", color=RED,
         fontsize=NSZ, family=NUM, va='center', ha='left', zorder=5)
axv.plot([jv, jv], [V[jv], 3.88e6], color='#2a6ad0', lw=1.3, ls=(0, (3, 3)), zorder=5)
axv.plot([jv, jv + 2.0], [1.88e6, 1.88e6], color='#2a6ad0', lw=1.3, ls=(0, (3, 3)), zorder=5)
axv.text(jv + 2.2, 1.88e6, f"{int(V[jv]):,}({days[jv].strftime('%Y/%m/%d')})", color='#2a6ad0',
         fontsize=NSZ, family=NUM, va='center', ha='left', zorder=5)

# x axis ticks and month labels
blend = mtransforms.blended_transform_factory(axv.transData, axv.transAxes)
for w in week_idx:
    axv.plot([w - 0.5, w - 0.5], [0, -0.075], transform=blend, color='black', lw=1.4, clip_on=False)
for m in month_idx:
    lab = '2023' if days[m].month == 1 else f'{days[m].month:02d}'
    axv.plot([m - 0.5, m - 0.5], [0, -0.075], transform=blend, color='black', lw=1.4, clip_on=False)
    axv.text(m - 0.25, -0.21, lab, transform=blend, fontsize=NSZ, family=NUM, va='center', ha='left')

# ---------------- overlay (frame, title, legends, buttons) ----------------
ov = fig.add_axes([0, 0, 1, 1], zorder=10)
ov.set_xlim(0, W)
ov.set_ylim(H, 0)
ov.axis('off')
ov.patch.set_alpha(0)

ov.add_patch(Rectangle((0, 0), W, 37, color='#e6e6e6', lw=0))
ov.plot([0, W], [1.5, 1.5], color='#8a9098', lw=2.5)
ov.text(6, 19, '현대미포조선-[K200]', fontsize=21, va='center', ha='left', color='#111111')
ov.text(3252, 19, '(1일)', fontsize=19, va='center', ha='right', color='#222222', fontweight='bold')
for xb in (1.2, W - 1.5):
    ov.plot([xb, xb], [37, H], color='#8c8c8c', lw=2.5)
for yb in (618.5, 789, 917, 1036, 1124):
    ov.plot([0, W], [yb, yb], color='#808080', lw=2.2)
for xb in (118, 3140):
    ov.plot([xb, xb], [37, 1224], color='#808080', lw=1.6)
ov.plot([0, W], [1224.5, 1224.5], color='black', lw=2.2)
ov.text(5, 1245, days[0].strftime('%Y/%m/%d'), fontsize=NSZ, family=NUM, va='center', ha='left')
ov.text(3250, 1245, days[-1].strftime('%Y/%m/%d'), fontsize=NSZ, family=NUM, va='center', ha='right')

renderer = fig.canvas.get_renderer()


def icon(x, y):
    ov.add_patch(Rectangle((x + 3, y - 6), 8, 17, color='#8e8e8e', lw=0))
    ov.add_patch(Rectangle((x, y - 9), 8, 17, facecolor='#c6efc0', edgecolor='#2f4a4a', lw=1.1))


def legend_row(x, y, parts):
    for txt, col in parts:
        if txt is None:
            icon(x, y)
            x += 16
            continue
        t = ov.text(x, y, txt, color=col, fontsize=LSZ, va='center', ha='left')
        x += t.get_window_extent(renderer).width + 7


legend_row(122, 55, [(None, None), ('일목균형지표(9,26,26,52,26)', 'black'), ('전환선', '#3d8a86'),
                     ('기준선', '#707070'), ('선행스팬1', '#f5a455'), ('선행스팬2', '#a3c9f3'),
                     ('후행스팬', '#5aa5f5'), (None, None), ('가격이동평균(종가,지수이평)', 'black'),
                     ('5', '#a03a12'), ('20', NAVY), ('60', '#2f7a14'), ('10', ORG), ('300', '#707070')])
legend_row(122, 637, [(None, None), ('TRIX(종가,12)', ORG), ('Signal(단순이평(9))', PUR)])
legend_row(122, 805, [(None, None), ('StochasticSlow(12,5,지수이평,5)', 'black'), ('%K', ORG), ('%D', PUR)])
legend_row(122, 933, [(None, None), ('ADX(7,7)', 'black'), (None, None), ('ADX(11,11)', 'black')])
legend_row(122, 1053, [(None, None), ('BWI((고+저+종)/3,9,단순이평,2,0)', ORG), (None, None),
                       ('BWI((고+저+종)/3,18,단순이평,2,0)', NAVY)])
legend_row(122, 1137, [(None, None), ('거래량', 'black'), (None, None), ('거래량이동평균(단순이평) 5', 'black'),
                       ('20', '#e52a1a'), ('60', '#2f7a14')])


def buttons(y, xcol='black'):
    for j in range(4):
        x = 3158 + 24 * j
        ov.add_patch(Rectangle((x, y), 22, 20, facecolor='#f2f2f2', edgecolor='none'))
        ov.plot([x, x + 22, x + 22], [y + 20, y + 20, y], color='#303030', lw=1.6)
        ov.plot([x, x, x + 22], [y + 20, y, y], color='#ffffff', lw=1.2)
        if j == 0:
            ov.plot([x + 7, x + 7, x + 16], [y + 4, y + 15, y + 15], color='black', lw=1.6)
        elif j == 1:
            ov.add_patch(Rectangle((x + 9, y + 4), 4, 12, color='black', lw=0))
        elif j == 2:
            ov.add_patch(Rectangle((x + 5, y + 6), 12, 9, fill=False, edgecolor='black', lw=1.6))
            ov.plot([x + 5, x + 17], [y + 6.5, y + 6.5], color='black', lw=2.4)
        else:
            ov.plot([x + 6, x + 16], [y + 5, y + 15], color=xcol, lw=1.8)
            ov.plot([x + 16, x + 6], [y + 5, y + 15], color=xcol, lw=1.8)


buttons(41, '#a8a8a8')
for yb in (626, 793, 922, 1041, 1127):
    buttons(yb)


def to_px(axx, yval):
    return H - axx.transData.transform((0, yval))[1]


py = to_px(ax, C[-1])
ov.add_patch(Polygon([[3143, py], [3162, py - 28], [3256, py - 28], [3256, py + 28], [3162, py + 28]],
                     closed=True, color='#c43c1c', lw=0))
chg = (C[-1] - C[-2]) / C[-2] * 100
ov.text(3208, py - 13, f"{int(C[-1]):,}", color='white', fontsize=NSZ, family=NUM, ha='center', va='center')
ov.text(3208, py + 13, f"+{chg:.2f}%".replace('.', ','), color='white', fontsize=NSZ, family=NUM,
        ha='center', va='center')
pv = min(to_px(axv, V[-1]), 1224 - 14)
ov.add_patch(Polygon([[3143, pv], [3158, pv - 14], [3256, pv - 14], [3256, pv + 14], [3158, pv + 14]],
                     closed=True, color='#3a70e0', lw=0))
ov.text(3208, pv, f"{int(V[-1]):,}", color='white', fontsize=NSZ, family=NUM, ha='center', va='center')

fig.savefig('out.png', dpi=100)
